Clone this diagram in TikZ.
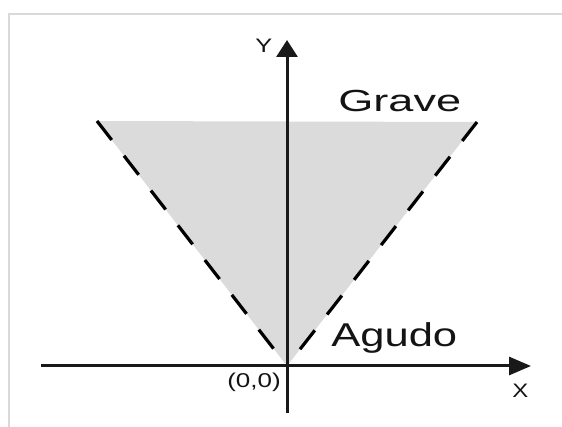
\documentclass[tikz,border=0pt]{standalone}
\usepackage{fontspec}
\setmainfont{Liberation Sans}
\usetikzlibrary{arrows.meta}
\begin{document}
\begin{tikzpicture}[x=1pt,y=-1pt,
  axis/.style={line width=3pt,draw=black!90},
  vline/.style={line width=3.2pt,black,dash pattern=on 24pt off 20pt},
  lbl/.style={anchor=base west,inner sep=0pt,text=black!92},
  frameline/.style={draw=black!15,line width=2pt}]
\useasboundingbox (0,0) rectangle (562,427);
\coordinate (fTL) at (9,14);
\coordinate (fTR) at (562,14);
\coordinate (fBL) at (9,427);
\draw[frameline] (fBL) -- (fTL) -- (fTR);
\coordinate (O) at (287,366);
\coordinate (L) at (97,121);
\coordinate (R) at (477,122);
\fill[black!14] (L) -- (R) -- (O) -- cycle;
\draw[vline] (L) -- (O);
\draw[vline] (R) -- (O);
\coordinate (yb) at (287,413);
\coordinate (yt) at (287,40);
\coordinate (xl) at (41,366);
\coordinate (xr) at (531,366);
\draw[axis,-{Triangle[length=17pt,width=21pt]}] (yb) -- (yt);
\draw[axis,-{Triangle[length=22pt,width=18pt]}] (xl) -- (xr);
\node[lbl,font=\fontsize{30.5}{30}\selectfont,xscale=1.48] (grave) at (338,112) {Grave};
\node[lbl,font=\fontsize{33}{33}\selectfont,xscale=1.32] (agudo) at (331,347) {Agudo};
\node[lbl,font=\fontsize{19.5}{20}\selectfont,xscale=1.3] (ylab) at (255,53) {Y};
\node[lbl,font=\fontsize{19.5}{20}\selectfont,xscale=1.23] (xlab) at (512,397) {X};
\node[lbl,font=\fontsize{20}{20}\selectfont,xscale=1.3] (orig) at (227,388) {(0,0)};
\end{tikzpicture}
\end{document}
